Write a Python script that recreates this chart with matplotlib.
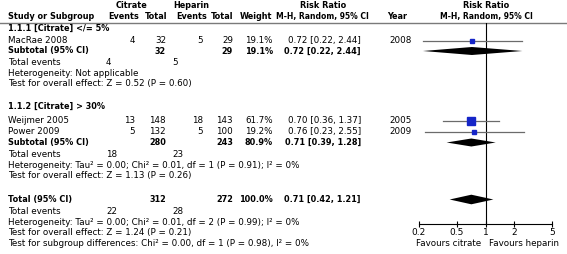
import matplotlib
matplotlib.use('Agg')
import matplotlib.pyplot as plt

# ---- data ----
studies = ['MacRae 2008', 'Weijmer 2005', 'Power 2009']
years = [2008, 2005, 2009]
cit_events = [4, 13, 5]
cit_total = [32, 148, 132]
hep_events = [5, 18, 5]
hep_total = [29, 143, 100]
weights = [19.1, 61.7, 19.2]
rr = [0.72, 0.70, 0.76]
rr_lo = [0.22, 0.36, 0.23]
rr_hi = [2.44, 1.37, 2.55]

sub_names = ['1.1.1 [Citrate] </= 5%', '1.1.2 [Citrate] > 30%']
sub_members = [[0], [1, 2]]
sub_cit_total = [32, 280]
sub_hep_total = [29, 243]
sub_weight = [19.1, 80.9]
sub_rr = [0.72, 0.71]
sub_lo = [0.22, 0.39]
sub_hi = [2.44, 1.28]
sub_cit_events = [4, 18]
sub_hep_events = [5, 23]
sub_het = ['Heterogeneity: Not applicable',
           'Heterogeneity: Tau² = 0.00; Chi² = 0.01, df = 1 (P = 0.91); I² = 0%']
sub_test = ['Test for overall effect: Z = 0.52 (P = 0.60)',
            'Test for overall effect: Z = 1.13 (P = 0.26)']

tot_cit_total, tot_hep_total, tot_weight = 312, 272, 100.0
tot_rr, tot_lo, tot_hi = 0.71, 0.42, 1.21
tot_cit_events, tot_hep_events = 22, 28
tot_het = 'Heterogeneity: Tau² = 0.00; Chi² = 0.01, df = 2 (P = 0.99); I² = 0%'
tot_test = 'Test for overall effect: Z = 1.24 (P = 0.21)'
tot_sub = 'Test for subgroup differences: Chi² = 0.00, df = 1 (P = 0.98), I² = 0%'

ticks = [0.2, 0.5, 1, 2, 5]
tick_labels = ['0.2', '0.5', '1', '2', '5']

# ---- layout (pixel coordinates, y downwards) ----
W, H = 567, 254
FS = 6.3       # body text
FSH = 5.9      # header text
X_LEFT = 8
X_CE, X_CT, X_HE, X_HT, X_W = 135, 166, 203, 233, 273
X_CI, X_YEAR = 361, 389
X_TE_C, X_TE_H = 106, 172   # total events are left-aligned
PLOT_L, PLOT_R = 419, 552
RULE_Y, AXIS_Y = 22.5, 224

study_rows = [40.5, 120.5, 131.5]
sub_title_rows = [28, 106]
sub_rows = [51, 142.5]
sub_te_rows = [62.5, 154.5]
sub_het_rows = [73, 165]
sub_test_rows = [83.5, 175.5]
tot_row, tot_te_row, tot_het_row, tot_test_row, tot_sub_row = 199.5, 212, 222.5, 233, 243.5

fig = plt.figure(figsize=(W / 100, H / 100), dpi=100)
ax = fig.add_axes([0, 0, 1, 1])
ax.set_xlim(0, W)
ax.set_ylim(H, 0)
ax.axis('off')


def txt(x, y, s, ha='left', bold=False, size=FS):
    ax.text(x, y, s, ha=ha, va='center', fontsize=size,
            fontweight='bold' if bold else 'normal')


# header
txt(132, 5, 'Citrate', ha='center', bold=True, size=FSH)
txt(191, 5, 'Heparin', ha='center', bold=True, size=FSH)
txt(323, 5, 'Risk Ratio', ha='center', bold=True, size=FSH)
txt(486, 5, 'Risk Ratio', ha='center', bold=True, size=FSH)
txt(X_LEFT, 16.5, 'Study or Subgroup', bold=True, size=FSH)
for x, s in [(X_CE + 4, 'Events'), (X_CT + 1, 'Total'), (X_HE + 4, 'Events'),
             (X_HT, 'Total'), (X_W - 1, 'Weight')]:
    txt(x, 16.5, s, ha='right', bold=True, size=FSH)
txt(322, 16.5, 'M-H, Random, 95% CI', ha='center', bold=True, size=5.5)
txt(X_YEAR - 2, 16.5, 'Year', bold=True, size=FSH)
txt(486, 16.5, 'M-H, Random, 95% CI', ha='center', bold=True, size=5.5)
ax.plot([0, W], [RULE_Y, RULE_Y], color='#7a7a7a', lw=1.0)

# table rows
for g in range(len(sub_names)):
    txt(X_LEFT, sub_title_rows[g], sub_names[g], bold=True, size=FSH)
    for i in sub_members[g]:
        y = study_rows[i]
        txt(X_LEFT, y, studies[i])
        txt(X_CE, y, str(cit_events[i]), ha='right')
        txt(X_CT, y, str(cit_total[i]), ha='right')
        txt(X_HE, y, str(hep_events[i]), ha='right')
        txt(X_HT, y, str(hep_total[i]), ha='right')
        txt(X_W, y, f'{weights[i]:.1f}%', ha='right')
        txt(X_CI, y, f'{rr[i]:.2f} [{rr_lo[i]:.2f}, {rr_hi[i]:.2f}]', ha='right')
        txt(X_YEAR, y, str(years[i]))
    y = sub_rows[g]
    txt(X_LEFT, y, 'Subtotal (95% CI)', bold=True, size=FSH)
    txt(X_CT, y, str(sub_cit_total[g]), ha='right', bold=True, size=FSH)
    txt(X_HT, y, str(sub_hep_total[g]), ha='right', bold=True, size=FSH)
    txt(X_W, y, f'{sub_weight[g]:.1f}%', ha='right', bold=True, size=FSH)
    txt(X_CI, y, f'{sub_rr[g]:.2f} [{sub_lo[g]:.2f}, {sub_hi[g]:.2f}]', ha='right',
        bold=True, size=FSH)
    txt(X_LEFT, sub_te_rows[g], 'Total events')
    txt(X_TE_C, sub_te_rows[g], str(sub_cit_events[g]))
    txt(X_TE_H, sub_te_rows[g], str(sub_hep_events[g]))
    txt(X_LEFT, sub_het_rows[g], sub_het[g])
    txt(X_LEFT, sub_test_rows[g], sub_test[g])

txt(X_LEFT, tot_row, 'Total (95% CI)', bold=True, size=FSH)
txt(X_CT, tot_row, str(tot_cit_total), ha='right', bold=True, size=FSH)
txt(X_HT, tot_row, str(tot_hep_total), ha='right', bold=True, size=FSH)
txt(X_W, tot_row, f'{tot_weight:.1f}%', ha='right', bold=True, size=FSH)
txt(X_CI, tot_row, f'{tot_rr:.2f} [{tot_lo:.2f}, {tot_hi:.2f}]', ha='right', bold=True, size=FSH)
txt(X_LEFT, tot_te_row, 'Total events')
txt(X_TE_C, tot_te_row, str(tot_cit_events))
txt(X_TE_H, tot_te_row, str(tot_hep_events))
txt(X_LEFT, tot_het_row, tot_het)
txt(X_LEFT, tot_test_row, tot_test)
txt(X_LEFT, tot_sub_row, tot_sub)
txt(449, 243, 'Favours citrate', ha='center')
txt(524, 243, 'Favours heparin', ha='center')

# ---- forest panel ----
fx = fig.add_axes([PLOT_L / W, (H - AXIS_Y) / H, (PLOT_R - PLOT_L) / W, (AXIS_Y - RULE_Y) / H])
fx.set_xscale('log')
fx.set_xlim(0.2, 5)
fx.set_ylim(AXIS_Y, RULE_Y)
fx.patch.set_alpha(0)
for s in ['top', 'left', 'right']:
    fx.spines[s].set_visible(False)
fx.spines['bottom'].set_linewidth(0.8)
fx.set_yticks([])
fx.minorticks_off()
fx.set_xticks(ticks)
fx.set_xticklabels(tick_labels, fontsize=FS + 0.2)
fx.tick_params(axis='x', direction='inout', length=5, width=0.8, pad=0.5)
fx.axvline(1, color='black', lw=0.8)

for i in range(len(studies)):
    y = study_rows[i]
    fx.plot([rr_lo[i], rr_hi[i]], [y, y], color='#6b6b6b', lw=0.9, clip_on=False)
    fx.plot(rr[i], y, marker='s', ms=max(2.2, 6.0 * weights[i] / 61.7),
            color='#1525c8', mec='#1525c8', clip_on=False)


def diamond(est, lo, hi, y, h):
    fx.fill([lo, est, hi, est], [y, y - h, y, y + h], color='black', lw=0, clip_on=False)


for g in range(len(sub_names)):
    diamond(sub_rr[g], sub_lo[g], sub_hi[g], sub_rows[g], 4.0)
diamond(tot_rr, tot_lo, tot_hi, tot_row, 4.8)

fig.savefig('out.png', dpi=100)
